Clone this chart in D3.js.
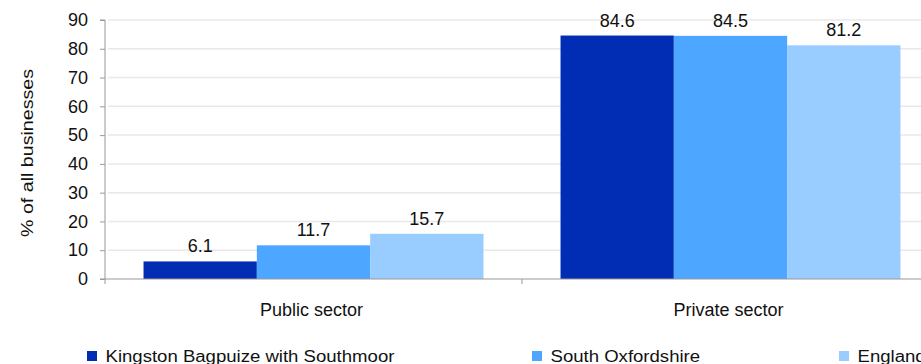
<!DOCTYPE html>
<html><head><meta charset="utf-8">
<script src="https://cdn.jsdelivr.net/npm/d3@7"></script>
<style>body{margin:0;background:#fff;overflow:hidden}svg{display:block;font-family:"Liberation Sans",Arial,sans-serif}</style>
</head><body><svg id="c" width="921" height="364"></svg>
<script>
const categories = ["Public sector", "Private sector"];
const seriesNames = ["Kingston Bagpuize with Southmoor", "South Oxfordshire", "England"];
const kingston = [6.1, 84.6];
const southOxon = [11.7, 84.5];
const england = [15.7, 81.2];
const yTicks = [0, 10, 20, 30, 40, 50, 60, 70, 80, 90];
const colors = ["#002db3", "#4da6ff", "#99ccff"];
const seriesValues = [kingston, southOxon, england];

const svg = d3.select("#c");
const mLeft = 105, mRight = 939, mTop = 20, mBottom = 279;
const FS = 18;
const x = d3.scaleBand().domain(categories).range([mLeft, mRight]).paddingInner(0).paddingOuter(0);
const xs = d3.scaleBand().domain(seriesNames).range([0, x.bandwidth()]).paddingInner(0).paddingOuter(0.34);
const y = d3.scaleLinear().domain([0, 90]).range([mBottom, mTop]);

// gridlines
svg.append("g").selectAll("line").data(yTicks.slice(1)).join("line")
  .attr("x1", mLeft + 3).attr("x2", 921).attr("y1", d => y(d)).attr("y2", d => y(d))
  .attr("stroke", "#e8e8e8").attr("stroke-width", 1.5);

// bars
const groups = svg.append("g").selectAll("g").data(categories).join("g")
  .attr("transform", d => `translate(${x(d)},0)`);
groups.each(function(cat, ci) {
  const g = d3.select(this);
  seriesNames.forEach((s, si) => {
    const v = seriesValues[si][ci];
    g.append("rect").attr("x", xs(s)).attr("width", xs.bandwidth())
      .attr("y", y(v)).attr("height", y(0) - y(v)).attr("fill", colors[si]);
    g.append("text").attr("x", xs(s) + xs.bandwidth() / 2).attr("y", y(v) - 9)
      .attr("text-anchor", "middle").attr("font-size", FS).attr("fill", "#111").text(v.toFixed(1));
  });
});

// y axis
const yAxis = d3.axisLeft(y).tickValues(yTicks).tickSize(5).tickPadding(12);
const ya = svg.append("g").attr("transform", `translate(${mLeft},0)`).call(yAxis);
ya.select(".domain").attr("stroke", "#999").attr("d", `M-5,${mTop}H0V${mBottom}`);
ya.selectAll(".tick line").attr("stroke", "#999");
ya.selectAll(".tick text").attr("font-size", FS).attr("fill", "#111").attr("font-family", "Liberation Sans, Arial, sans-serif");

// x axis
const xa = svg.append("g").attr("transform", `translate(0,${mBottom})`);
xa.append("line").attr("x1", mLeft - 5).attr("x2", 921).attr("y1", 0).attr("y2", 0).attr("stroke", "#999");
xa.selectAll("line.t").data([mLeft, x("Private sector"), mRight]).join("line").attr("class", "t")
  .attr("x1", d => d).attr("x2", d => d).attr("y1", 0).attr("y2", 5).attr("stroke", "#999");
xa.selectAll("text").data(categories).join("text")
  .attr("x", d => x(d) + x.bandwidth() / 2 - 2).attr("y", 37).attr("text-anchor", "middle")
  .attr("font-size", FS).attr("fill", "#111").text(d => d);

// y label
svg.append("text").attr("transform", "translate(33,153) rotate(-90)").attr("text-anchor", "middle")
  .attr("font-size", 16.5).attr("fill", "#111")
  .attr("textLength", 168).attr("lengthAdjust", "spacingAndGlyphs").text("% of all businesses");

// legend
const legendX = [87, 532, 839];
const lg = svg.append("g").selectAll("g").data(seriesNames).join("g")
  .attr("transform", (d, i) => `translate(${legendX[i]},351)`);
lg.append("rect").attr("width", 10).attr("height", 10).attr("fill", (d, i) => colors[i]);
lg.append("text").attr("x", 18.5).attr("y", 11).attr("font-size", 16).attr("fill", "#111")
  .each(function(d, i) {
    const t = d3.select(this).text(d);
    const w = this.getComputedTextLength();
    t.attr("textLength", w * 1.16).attr("lengthAdjust", "spacingAndGlyphs");
  });
</script></body></html>
